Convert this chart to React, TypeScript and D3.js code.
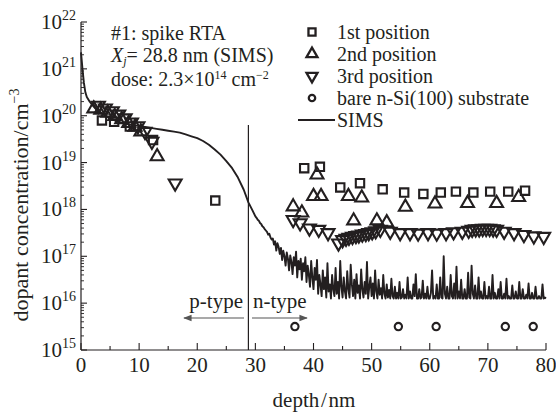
import * as d3 from 'd3';

// depth axis (nm) and concentration decades
const xTicks = [0, 10, 20, 30, 40, 50, 60, 70, 80];
const xMinorTicks = [5, 15, 25, 35, 45, 55, 65, 75];
const yDecades = [15, 16, 17, 18, 19, 20, 21, 22];

// junction depth from SIMS
const junctionDepth = 28.8;

// concentrations are given as log10(cm^-3)
const pos1Depth = [3.6, 5.7, 8.4, 12.4, 23.1, 38.4, 41.1, 44.6, 48.0, 51.9, 55.6, 58.9, 61.9, 64.5, 67.5, 70.4, 73.5, 76.4];
const pos1Log = [19.9, 19.87, 19.77, 19.48, 18.19, 18.88, 18.91, 18.47, 18.56, 18.43, 18.36, 18.33, 18.36, 18.38, 18.36, 18.38, 18.38, 18.4];

const pos2Depth = [2.2, 3.4, 4.6, 5.8, 7.0, 8.2, 9.3, 10.3, 13.1, 36.5, 38.0, 40.0, 40.6, 41.3, 46.0, 46.9, 48.3, 50.9, 52.6, 55.8, 60.9, 66.5, 71.5, 75.3];
const pos2Log = [20.15, 20.12, 20.06, 19.99, 19.92, 19.84, 19.76, 19.66, 19.13, 18.06, 17.93, 18.28, 18.74, 18.28, 18.28, 17.76, 18.25, 17.76, 17.72, 18.05, 18.12, 18.13, 18.13, 18.26];

const pos3Depth = [3.0, 4.2, 5.4, 6.5, 7.6, 8.7, 9.8, 11.0, 12.2, 16.2,
  36.5, 37.7, 39.3, 40.9, 42.5, 44.3, 45.0, 45.6, 46.1, 46.7, 47.3, 47.8, 48.4, 49.0, 49.5, 50.1, 50.7,
  51.5, 53.2, 54.9, 56.6, 58.0, 59.7, 61.2, 62.8, 64.1, 65.6, 66.7, 67.3, 67.9, 68.5, 69.1, 69.7, 70.3,
  70.9, 71.5, 72.8, 74.5, 76.2, 77.9, 79.6];
const pos3Log = [20.22, 20.16, 20.1, 20.03, 19.95, 19.86, 19.78, 19.66, 19.45, 18.56,
  17.78, 17.71, 17.6, 17.57, 17.5, 17.28, 17.35, 17.38, 17.4, 17.42, 17.44, 17.45, 17.47, 17.48, 17.5, 17.52, 17.54,
  17.57, 17.53, 17.5, 17.5, 17.49, 17.5, 17.49, 17.5, 17.52, 17.53, 17.55, 17.57, 17.58, 17.58, 17.59, 17.59, 17.59,
  17.58, 17.57, 17.53, 17.5, 17.46, 17.43, 17.42];

const bareDepth = [36.8, 54.6, 61.1, 73.0, 77.8];
const bareLog = [15.5, 15.5, 15.5, 15.5, 15.5];

// SIMS profile: smooth part, then noisy tail sampled every 0.2 nm from 30 nm
const simsDepth = [0, 0.25, 0.5, 0.75, 1, 1.5, 2, 2.5, 3, 4, 5, 6, 7, 8, 9, 10, 11, 12, 13, 14, 15, 16, 17, 18, 19, 20, 21, 22, 23, 24, 25, 26, 27, 28, 28.8, 29.5];
const simsLog = [21.35, 21.0, 20.7, 20.5, 20.4, 20.3, 20.22, 20.15, 20.1, 20.02, 19.94, 19.89, 19.85, 19.82, 19.8, 19.78, 19.76, 19.74, 19.72, 19.7, 19.68, 19.66, 19.64, 19.6, 19.56, 19.52, 19.46, 19.38, 19.28, 19.17, 19.03, 18.88, 18.68, 18.42, 18.15, 17.98];
const tailStart = 30;
const tailStep = 0.2;
const tailLog = [
  17.85, 17.82, 17.78, 17.76, 17.71, 17.69, 17.64, 17.62, 17.58, 17.55,
  17.52, 17.46, 17.48, 17.4, 17.36, 17.38, 17.25, 17.32, 17.12, 17.28,
  17.2, 17.05, 17.18, 16.92, 17.12, 17.0, 16.8, 17.08, 16.95, 16.7,
  17.02, 16.88, 16.62, 16.98, 16.8, 17.1, 16.55, 16.9, 16.72, 16.95,
  16.5, 16.85, 16.68, 16.98, 16.45, 16.8, 16.6, 16.35, 16.9, 16.55,
  16.3, 16.75, 16.5, 16.92, 16.2, 16.6, 16.4, 16.15, 16.7, 16.3,
  16.55, 16.12, 16.85, 16.25, 16.4, 16.1, 16.6, 16.3, 16.15, 16.75,
  16.2, 16.45, 16.1, 16.9, 16.35, 16.12, 16.55, 16.25, 16.1, 16.68,
  16.3, 16.12, 16.82, 16.4, 16.15, 16.5, 16.1, 16.62, 16.22, 16.38,
  16.1, 16.72, 16.3, 16.12, 16.45, 16.2, 16.88, 16.1, 16.35, 16.55,
  16.15, 16.42, 16.1, 16.7, 16.25, 16.1, 16.5, 16.18, 16.32, 16.1,
  16.6, 16.2, 16.1, 16.4, 16.12, 16.28, 16.1, 16.52, 16.15, 16.1,
  16.35, 16.1, 16.22, 16.1, 16.45, 16.1, 16.12, 16.3, 16.1, 16.18,
  16.1, 16.55, 16.1, 16.25, 16.1, 16.1, 16.4, 16.15, 16.62, 16.1,
  16.1, 16.3, 16.1, 16.12, 16.48, 16.1, 16.2, 16.1, 16.35, 16.1,
  16.1, 16.22, 16.7, 16.1, 16.15, 16.1, 16.4, 16.1, 16.1, 16.55,
  16.12, 16.1, 17.0, 16.2, 16.1, 16.35, 16.1, 16.1, 16.6, 16.15,
  16.1, 16.42, 16.1, 16.78, 16.1, 16.25, 16.1, 16.5, 16.1, 16.1,
  16.3, 16.1, 16.1, 16.65, 16.12, 16.1, 16.8, 16.2, 16.1, 16.38,
  16.1, 16.1, 16.55, 16.1, 16.25, 16.1, 16.1, 16.45, 16.1, 16.15,
  16.1, 16.35, 16.1, 16.1, 16.6, 16.1, 16.22, 16.1, 16.1, 16.3,
  16.1, 16.45, 16.1, 16.1, 16.2, 16.1, 16.52, 16.1, 16.15, 16.1,
  16.1, 16.38, 16.1, 16.1, 16.25, 16.1, 16.1, 16.45, 16.1, 16.1,
  16.3, 16.1, 16.1, 16.18, 16.1, 16.42, 16.1, 16.1, 16.22, 16.1,
  16.1, 16.35, 16.1, 16.1, 16.15, 16.1, 16.1, 16.4, 16.1, 16.12,
  16.1,
];

const legendItems = ['1st position', '2nd position', '3rd position', 'bare n-Si(100) substrate', 'SIMS'];

const ink = '#231f20';
const font = '"Liberation Serif", "Times New Roman", serif';

export default function App() {
  const x = d3.scaleLinear().domain([0, 80]).range([81, 546]);
  const y = d3.scaleLog().domain([1e15, 1e22]).range([350, 22]);
  const yl = (v: number) => y(Math.pow(10, v));

  const simsPts: [number, number][] = simsDepth.map((d, i) => [d, simsLog[i]]);
  tailLog.forEach((v, i) => simsPts.push([tailStart + i * tailStep, v]));
  const line = d3.line<[number, number]>().x(d => x(d[0])).y(d => yl(d[1]));

  const square = d3.symbol(d3.symbolSquare, 70)()!;
  const tri = d3.symbol(d3.symbolTriangle, 72)()!;
  const circ = d3.symbol(d3.symbolCircle, 42)()!;
  const sqSmall = d3.symbol(d3.symbolSquare, 50)()!;
  const triSmall = d3.symbol(d3.symbolTriangle, 52)()!;
  const circSmall = d3.symbol(d3.symbolCircle, 32)()!;

  const minorY: number[] = [];
  yDecades.slice(0, -1).forEach(d => {
    for (let k = 2; k <= 9; k++) minorY.push(k * Math.pow(10, d));
  });

  const markStyle = { fill: 'none', stroke: ink, strokeWidth: 2.1 };
  const legendY = [32, 54, 76, 98, 120];

  return (
    <svg width={556} height={413} style={{ position: 'absolute', left: 0, top: 0, background: '#fff' }}
      fontFamily={font} fill={ink}>
      <defs>
        <marker id="ah" viewBox="0 0 10 10" refX="9" refY="5" markerWidth="7" markerHeight="7" orient="auto">
          <path d="M0,1 L10,5 L0,9 z" fill="#555" />
        </marker>
      </defs>

      {/* axes */}
      <line x1={81} x2={81} y1={22} y2={350} stroke={ink} strokeWidth={1.2} />
      <line x1={81} x2={546} y1={350} y2={350} stroke={ink} strokeWidth={1.2} />
      {xTicks.map(t => (
        <g key={'xt' + t}>
          <line x1={x(t)} x2={x(t)} y1={350} y2={343} stroke={ink} strokeWidth={1.1} />
          <text x={x(t)} y={372} fontSize={21} textAnchor="middle">{t}</text>
        </g>
      ))}
      {xMinorTicks.map(t => (
        <line key={'xm' + t} x1={x(t)} x2={x(t)} y1={350} y2={346} stroke={ink} strokeWidth={1.1} />
      ))}
      {yDecades.map(d => (
        <g key={'yt' + d}>
          <line x1={81} x2={87} y1={yl(d)} y2={yl(d)} stroke={ink} strokeWidth={1.1} />
          <text x={76} y={yl(d) + 7} fontSize={21} textAnchor="end">
            10<tspan fontSize={14} dy={-9}>{d}</tspan>
          </text>
        </g>
      ))}
      {minorY.map((v, i) => (
        <line key={'ym' + i} x1={81} x2={84} y1={y(v)} y2={y(v)} stroke={ink} strokeWidth={0.9} />
      ))}

      <text x={314} y={407} fontSize={21} textAnchor="middle">depth{'\u200a'}/{'\u200a'}nm</text>
      <text transform="translate(28,205) rotate(-90)" fontSize={22} textAnchor="middle">
        dopant concentration/cm<tspan fontSize={14} dy={-9}>−3</tspan>
      </text>

      {/* SIMS profile */}
      <path d={line(simsPts)!} fill="none" stroke={ink} strokeWidth={1.9} strokeLinejoin="round" />

      {/* junction marker */}
      <line x1={x(junctionDepth)} x2={x(junctionDepth)} y1={125} y2={350} stroke={ink} strokeWidth={1.2} />
      <text x={243} y={308} fontSize={21} textAnchor="end">p-type</text>
      <line x1={244} x2={184} y1={318} y2={318} stroke="#555" strokeWidth={1.2} markerEnd="url(#ah)" />
      <text x={253} y={308} fontSize={21}>n-type</text>
      <line x1={252} x2={307} y1={318} y2={318} stroke="#555" strokeWidth={1.2} markerEnd="url(#ah)" />

      {/* measured points */}
      {pos1Depth.map((d, i) => (
        <path key={'p1' + i} d={square} transform={`translate(${x(d)},${yl(pos1Log[i])})`} style={markStyle} />
      ))}
      {pos2Depth.map((d, i) => (
        <path key={'p2' + i} d={tri} transform={`translate(${x(d)},${yl(pos2Log[i])})`} style={markStyle} />
      ))}
      {pos3Depth.map((d, i) => (
        <path key={'p3' + i} d={tri} transform={`translate(${x(d)},${yl(pos3Log[i])}) rotate(180)`} style={markStyle} />
      ))}
      {bareDepth.map((d, i) => (
        <path key={'b' + i} d={circ} transform={`translate(${x(d)},${yl(bareLog[i])})`} style={markStyle} />
      ))}

      {/* annotation */}
      <g fontSize={20}>
        <text x={111} y={40}>#1: spike RTA</text>
        <text x={111} y={62}>
          <tspan fontStyle="italic">X</tspan>
          <tspan fontStyle="italic" fontSize={12} dy={3}>j</tspan>
          <tspan dy={-3}>= 28.8 nm (SIMS)</tspan>
        </text>
        <text x={111} y={86}>
          dose: 2.3×10<tspan fontSize={12} dy={-7}>14</tspan>
          <tspan dy={7}> cm</tspan><tspan fontSize={12} dy={-7}>−2</tspan>
        </text>
      </g>

      {/* legend */}
      <g fontSize={20}>
        <path d={sqSmall} transform={`translate(312,${legendY[0]})`} fill="none" stroke={ink} strokeWidth={2.3} />
        <path d={triSmall} transform={`translate(312,${legendY[1]})`} fill="none" stroke={ink} strokeWidth={2.3} />
        <path d={triSmall} transform={`translate(312,${legendY[2]}) rotate(180)`} fill="none" stroke={ink} strokeWidth={2.3} />
        <path d={circSmall} transform={`translate(312,${legendY[3]})`} fill="none" stroke={ink} strokeWidth={2.3} />
        <line x1={298} x2={335} y1={legendY[4]} y2={legendY[4]} stroke={ink} strokeWidth={1.9} />
        {legendItems.map((t, i) => (
          <text key={t} x={337} y={legendY[i] + 7}>{t}</text>
        ))}
      </g>
    </svg>
  );
}
